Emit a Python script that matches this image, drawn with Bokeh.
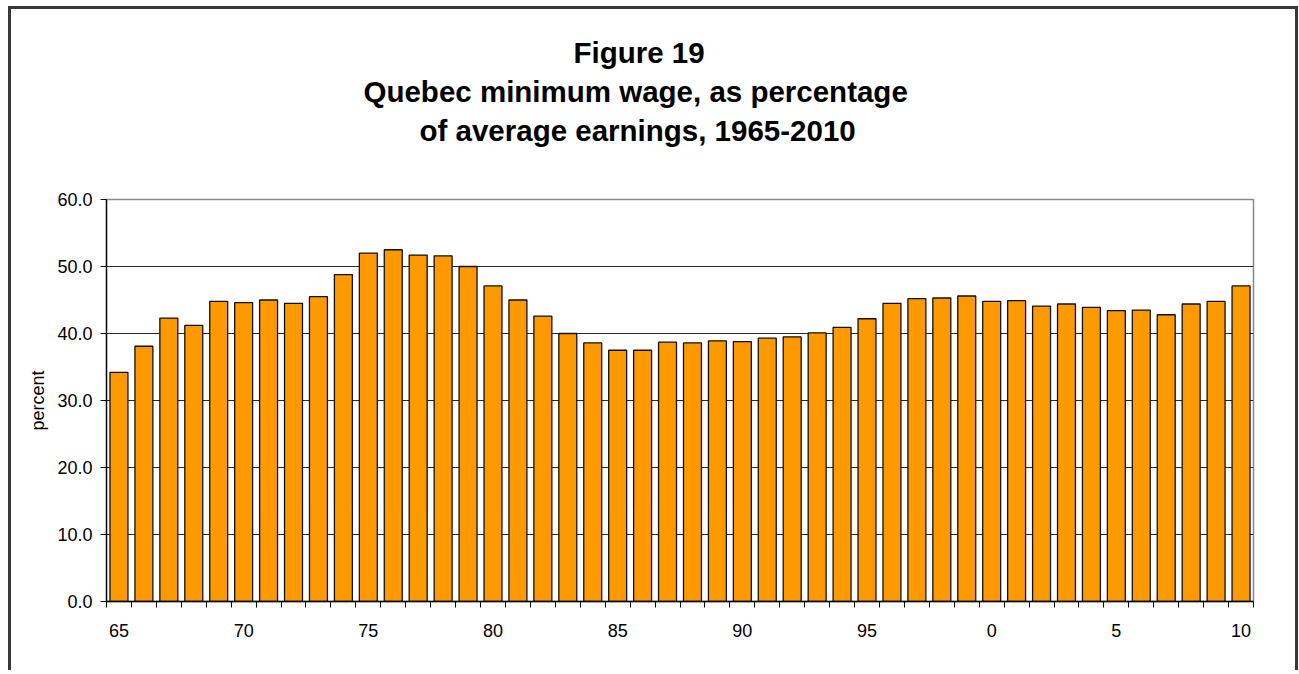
from bokeh.plotting import figure
from bokeh.models import Range1d, FixedTicker, Title
from bokeh.embed import file_html
from bokeh.resources import INLINE

# ---- data ----
years = list(range(1965, 2011))
pct_of_avg_earnings = [
    34.2, 38.1, 42.3, 41.2, 44.8, 44.6, 45.0, 44.5, 45.5, 48.8,
    52.0, 52.5, 51.7, 51.6, 50.0, 47.1, 45.0, 42.6, 40.0, 38.6,
    37.5, 37.5, 38.7, 38.6, 38.9, 38.8, 39.3, 39.5, 40.1, 40.9,
    42.2, 44.5, 45.2, 45.3, 45.6, 44.8, 44.9, 44.1, 44.4, 43.9,
    43.4, 43.5, 42.8, 44.4, 44.8, 47.1,
]
x_tick_years = [1965, 1970, 1975, 1980, 1985, 1990, 1995, 2000, 2005, 2010]
x_tick_labels = ["65", "70", "75", "80", "85", "90", "95", "0", "5", "10"]
y_ticks = [0, 10, 20, 30, 40, 50, 60]
y_tick_labels = ["0.0", "10.0", "20.0", "30.0", "40.0", "50.0", "60.0"]
title_lines = ["Figure 19",
               "Quebec minimum wage, as percentage",
               "of average earnings, 1965-2010"]

FONT = "Liberation Sans"
W, H = 1290, 664
X0, Y0 = 11, 9          # canvas origin on the page (margin + border)

p = figure(width=W, height=H, output_backend="svg", toolbar_location=None,
           x_range=Range1d(years[0] - 0.5, years[-1] + 0.5),
           y_range=Range1d(0, 60),
           min_border_left=int(106 - X0), min_border_right=int(X0 + W - 1253),
           min_border_top=int(199 - Y0), min_border_bottom=int(Y0 + H - 601))

p.styles = {"margin-left": "8px", "margin-top": "6px",
            "border-left": "3px solid #383838",
            "border-top": "3px solid #383838",
            "border-right": "3px solid #383838"}

p.background_fill_color = "white"
p.border_fill_color = "white"
p.outline_line_color = "#8a8a8a"
p.outline_line_width = 1.5

# grid
p.xgrid.visible = False
p.ygrid.ticker = FixedTicker(ticks=y_ticks[1:-1])
p.ygrid.grid_line_color = "#2a2a2a"
p.ygrid.grid_line_width = 1

# bars
p.vbar(x=years, top=pct_of_avg_earnings, width=0.72,
       fill_color="#FF9900", line_color="#111111", line_width=1.3)

# x axis
xa = p.xaxis[0]
xa.ticker = FixedTicker(ticks=x_tick_years,
                        minor_ticks=[y - 0.5 for y in years] + [years[-1] + 0.5])
xa.major_label_overrides = {t: l for t, l in zip(x_tick_years, x_tick_labels)}
xa.major_tick_out = 0
xa.major_tick_in = 0
xa.minor_tick_out = 6
xa.minor_tick_in = 0
xa.minor_tick_line_color = "black"
xa.axis_line_color = "black"
xa.axis_line_width = 1.3
xa.major_label_standoff = 16
xa.major_label_text_font = FONT
xa.major_label_text_font_size = "18px"
xa.major_label_text_color = "black"

# y axis
ya = p.yaxis[0]
ya.ticker = FixedTicker(ticks=y_ticks)
ya.major_label_overrides = {t: l for t, l in zip(y_ticks, y_tick_labels)}
ya.major_tick_out = 6
ya.major_tick_in = 0
ya.minor_tick_out = 0
ya.minor_tick_in = 0
ya.axis_line_color = "black"
ya.axis_line_width = 1.3
ya.major_tick_line_color = "black"
ya.major_label_standoff = 8
ya.major_label_text_font = FONT
ya.major_label_text_font_size = "18px"
ya.major_label_text_color = "black"
ya.axis_label = "percent"
ya.axis_label_text_font = FONT
ya.axis_label_text_font_size = "18px"
ya.axis_label_text_font_style = "normal"
ya.axis_label_text_color = "black"
ya.axis_label_standoff = 6

# spacer between the plot area and the title block
p.add_layout(Title(text=" ", standoff=16, text_font=FONT,
                   text_font_size="29.5px", text_font_style="bold"), "above")

# title: three left-aligned lines placed so that they are centred at x~638
line_starts = [573, 363, 419]
for line, start in reversed(list(zip(title_lines, line_starts))):
    p.add_layout(Title(text=line, align="left", offset=start - 106, standoff=4,
                       text_font=FONT, text_font_size="29.5px",
                       text_font_style="bold", text_color="black"), "above")

open("out.html", "w").write(file_html(p, INLINE))
